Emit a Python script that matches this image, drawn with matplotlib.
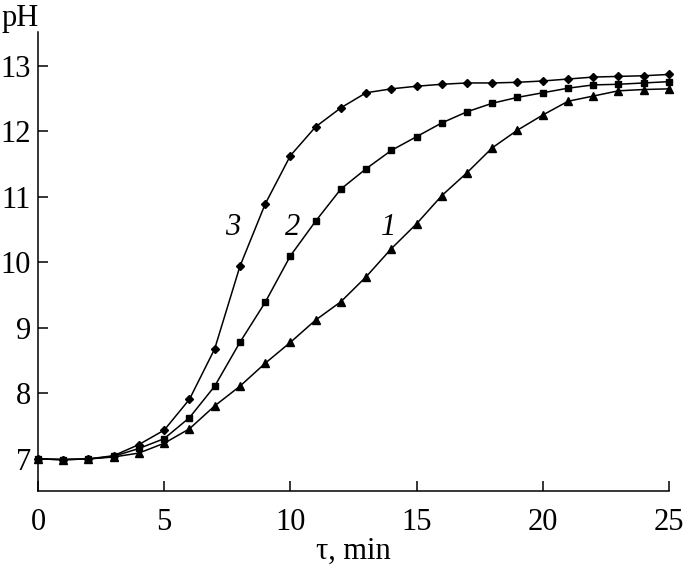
"""pH vs time curves for three samples (1, 2, 3)."""

import matplotlib
matplotlib.use("Agg")
import matplotlib.pyplot as plt

# time, min
tau = list(range(26))

# pH readings per curve
ph_1 = [7.0, 6.99, 7.0, 7.03, 7.09, 7.24, 7.46, 7.81, 8.11, 8.46, 8.78, 9.12, 9.40,
        9.78, 10.21, 10.59, 11.02, 11.37, 11.75, 12.02, 12.25, 12.46, 12.54, 12.62,
        12.64, 12.65]
ph_2 = [7.0, 6.99, 7.0, 7.04, 7.16, 7.31, 7.63, 8.11, 8.78, 9.39, 10.10, 10.63, 11.12,
        11.43, 11.71, 11.92, 12.13, 12.30, 12.43, 12.52, 12.59, 12.66, 12.71, 12.72,
        12.74, 12.76]
ph_3 = [7.0, 6.99, 7.0, 7.05, 7.22, 7.44, 7.91, 8.68, 9.94, 10.89, 11.63, 12.07, 12.36,
        12.59, 12.65, 12.69, 12.72, 12.74, 12.74, 12.75, 12.77, 12.80, 12.83, 12.84,
        12.85, 12.87]

curve_labels = ["1", "2", "3"]
label_pos = [(13.9, 10.53), (10.1, 10.53), (7.7, 10.53)]

x_ticks = [0, 5, 10, 15, 20, 25]
y_ticks = [7, 8, 9, 10, 11, 12, 13]

plt.rcParams["font.family"] = ["Liberation Serif", "DejaVu Serif"]
FS = 22

fig = plt.figure(figsize=(6.85, 5.69), dpi=100)
ax = fig.add_axes([0.0555, 0.137, 0.921, 0.807])

line_kw = dict(color="black", linewidth=1.1, clip_on=False, zorder=3)
ax.plot(tau, ph_1, marker="^", markersize=5.5, **line_kw)
ax.plot(tau, ph_2, marker="s", markersize=4.5, **line_kw)
ax.plot(tau, ph_3, marker="D", markersize=4.5, **line_kw)

for text, (x, y) in zip(curve_labels, label_pos):
    ax.text(x, y, text, fontsize=FS, style="italic", ha="center", va="center")

ax.set_xlim(0, 25)
ax.set_ylim(6.51, 13.52)
ax.set_xticks(x_ticks)
ax.set_yticks(y_ticks)
ax.spines["top"].set_visible(False)
ax.spines["right"].set_visible(False)
for side in ("left", "bottom"):
    ax.spines[side].set_linewidth(1.1)
ax.tick_params(direction="in", length=7, width=1.1, labelsize=FS)
ax.tick_params(axis="x", pad=12)
ax.tick_params(axis="y", pad=5)

ax.set_xlabel("τ, min", fontsize=FS, labelpad=0)
fig.text(0.002, 0.968, "pH", fontsize=FS, ha="left", va="center")

fig.savefig("out.png", dpi=100)
